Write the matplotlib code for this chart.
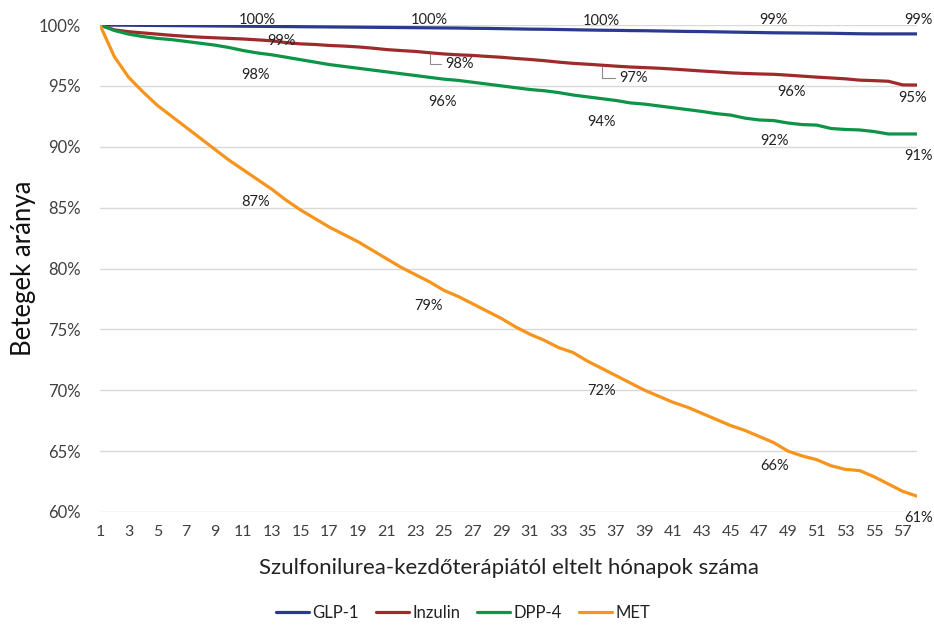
import numpy as np
import matplotlib
matplotlib.use("Agg")
import matplotlib.pyplot as plt
from matplotlib.ticker import FuncFormatter

plt.rcParams['font.family'] = ['Lato', 'DejaVu Sans']

months = list(range(1, 59))

glp1 = [100.0, 99.99, 99.98, 99.97, 99.96, 99.95, 99.94, 99.93, 99.92, 99.91,
        99.90, 99.89, 99.88, 99.87, 99.86, 99.85, 99.84, 99.83, 99.82, 99.81,
        99.80, 99.79, 99.78, 99.77, 99.76, 99.75, 99.73, 99.72, 99.70, 99.68,
        99.66, 99.65, 99.63, 99.61, 99.59, 99.57, 99.56, 99.54, 99.53, 99.51,
        99.49, 99.47, 99.46, 99.44, 99.42, 99.40, 99.38, 99.36, 99.35, 99.34,
        99.33, 99.32, 99.30, 99.28, 99.27, 99.27, 99.27, 99.27]

inzulin = [100.0, 99.6, 99.45, 99.35, 99.25, 99.15, 99.07, 99.0, 98.95, 98.9,
           98.85, 98.78, 98.7, 98.55, 98.45, 98.4, 98.32, 98.27, 98.2, 98.1,
           97.98, 97.9, 97.83, 97.72, 97.62, 97.55, 97.5, 97.42, 97.35, 97.25,
           97.17, 97.07, 96.95, 96.85, 96.78, 96.7, 96.62, 96.55, 96.5, 96.45,
           96.38, 96.3, 96.22, 96.15, 96.07, 96.02, 95.98, 95.95, 95.88, 95.8,
           95.72, 95.65, 95.58, 95.47, 95.43, 95.38, 95.08, 95.07]

dpp4 = [100.0, 99.55, 99.25, 99.05, 98.9, 98.8, 98.65, 98.5, 98.35, 98.15,
        97.9, 97.7, 97.55, 97.35, 97.15, 96.95, 96.75, 96.6, 96.45, 96.3,
        96.15, 96.0, 95.85, 95.7, 95.55, 95.45, 95.3, 95.15, 95.0, 94.85,
        94.7, 94.6, 94.45, 94.25, 94.1, 93.95, 93.8, 93.6, 93.5, 93.35,
        93.2, 93.05, 92.9, 92.72, 92.6, 92.35, 92.2, 92.15, 91.95, 91.82,
        91.78, 91.5, 91.42, 91.38, 91.25, 91.05, 91.05, 91.05]

met = [100.0, 97.4, 95.7, 94.5, 93.4, 92.5, 91.6, 90.7, 89.8, 88.9,
       88.1, 87.3, 86.5, 85.6, 84.8, 84.1, 83.4, 82.8, 82.2, 81.5,
       80.8, 80.1, 79.5, 78.9, 78.2, 77.7, 77.1, 76.5, 75.9, 75.2,
       74.6, 74.1, 73.5, 73.1, 72.4, 71.8, 71.2, 70.6, 70.0, 69.5,
       69.0, 68.6, 68.1, 67.6, 67.1, 66.7, 66.2, 65.7, 65.0, 64.6,
       64.3, 63.8, 63.5, 63.4, 62.9, 62.3, 61.7, 61.3]

series_names = ["GLP-1", "Inzulin", "DPP-4", "MET"]
colors = ["#2B3990", "#9E2A2B", "#0E9447", "#F7941D"]

# months with data labels
label_months = [12, 24, 36, 48, 58]

# label offsets in points (dx, dy) per series, per label month
label_offsets = {
    "GLP-1": [(0, 4.5), (0, 5.5), (0, 7), (0, 9), (1, 10)],
    "Inzulin": [(17, -1), (18.5, -8), (19.5, -9.5), (13, -12.5), (-3.5, -9)],
    "DPP-4": [(-1.5, -16), (9.5, -18), (0, -16.5), (0.5, -15), (1, -16)],
    "MET": [(-1.5, -16), (-1, -17), (0, -16), (0.5, -16.5), (1, -16)],
}
# labels that get a leader line
leader = {("Inzulin", 24), ("Inzulin", 36)}

fig = plt.figure(figsize=(9.34, 6.26), dpi=100)
ax = fig.add_axes([100 / 934, 1 - 512 / 626, 817 / 934, 487 / 626])

data = [glp1, inzulin, dpp4, met]
lines = []
for name, vals, c in zip(series_names, data, colors):
    ln, = ax.plot(months, vals, color=c, lw=2.3, label=name,
                  solid_joinstyle="round", solid_capstyle="round", zorder=3)
    lines.append(ln)
    for m, (dx, dy) in zip(label_months, label_offsets[name]):
        v = vals[m - 1]
        txt = "{:.0f}%".format(np.floor(v + 0.5))
        if (name, m) in leader:
            ax.annotate(txt, xy=(m, v), xytext=(dx - 7, dy), textcoords="offset points",
                        ha="left", va="center", fontsize=10.5, color="#222222",
                        arrowprops=dict(arrowstyle="-", color="#8C8C8C", lw=0.8,
                                        shrinkA=1, shrinkB=1,
                                        connectionstyle="angle,angleA=0,angleB=90,rad=0"),
                        zorder=5)
        else:
            ax.annotate(txt, xy=(m, v), xytext=(dx, dy), textcoords="offset points",
                        ha="center", va="center", fontsize=10.5, color="#222222", zorder=5)

ax.set_xlim(1, 58)
ax.set_ylim(60, 100)
ax.set_yticks(np.arange(60, 101, 5))
ax.yaxis.set_major_formatter(FuncFormatter(lambda v, p: "{:.0f}%".format(v)))
ax.set_xticks(list(range(1, 58, 2)))
ax.tick_params(axis="both", length=0, colors="#404040")
ax.tick_params(axis="y", pad=14, labelsize=12)
ax.tick_params(axis="x", pad=9, labelsize=11.5)
ax.grid(axis="y", color="#D9D9D9", lw=1.0, zorder=0)
ax.set_axisbelow(True)
for s in ax.spines.values():
    s.set_visible(False)

ax.set_ylabel("Betegek aránya", fontsize=18.5, color="#111111", labelpad=2)
ax.set_xlabel("Szulfonilurea-kezdőterápiától eltelt hónapok száma", fontsize=16,
              color="#222222", labelpad=14)

fig.legend(handles=lines, loc="center", bbox_to_anchor=(463 / 934, 1 - 613 / 626),
           ncol=4, frameon=False, fontsize=12, handlelength=2.0, handletextpad=0.2,
           columnspacing=1.0, labelcolor="#222222")

fig.savefig("out.png", dpi=100)
